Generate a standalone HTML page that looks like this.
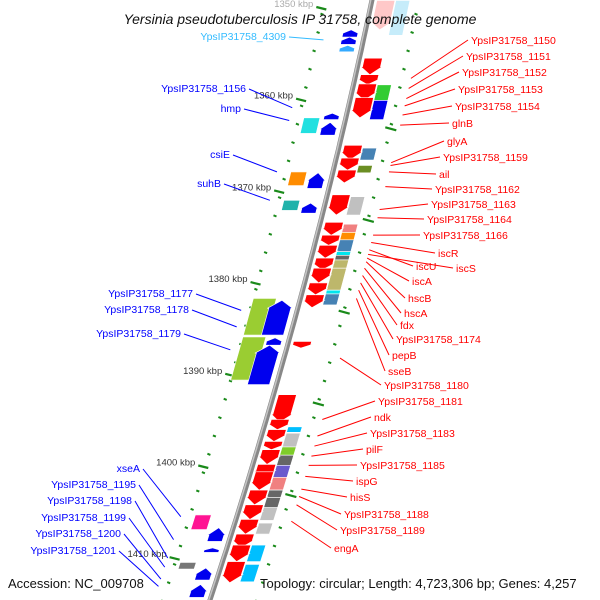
<!DOCTYPE html>
<html><head><meta charset="utf-8"><style>
html,body{margin:0;padding:0;background:#fff;}
svg{display:block;font-family:"Liberation Sans","DejaVu Sans",sans-serif;}
</style></head><body>
<svg id="map" width="600" height="600" viewBox="0 0 600 600" xmlns="http://www.w3.org/2000/svg">
<rect width="600" height="600" fill="#fff"/>
<g id="ticks"></g>
<g id="features"></g>
<g id="backbone"></g>
<g id="labels"></g>
<text x="300" y="24" text-anchor="middle" font-size="14" font-style="italic" fill="#111">Yersinia pseudotuberculosis IP 31758, complete genome</text>
<text x="8" y="588" font-size="13" fill="#111">Accession: NC_009708</text>
<text x="260" y="588" font-size="13" fill="#111">Topology: circular; Length: 4,723,306 bp; Genes: 4,257</text>
</svg>
<script>
// ---- data (kbp) ----
const fwdStart = [1349.5,1355.8,1357.6,1358.6,1360.1,1365.3,1366.7,1368.0,1370.7,1373.7,1375.1,1376.2,1377.6,1378.7,1380.3,1381.6,1386.7,1392.5,1395.2,1396.3,1397.6,1398.5,1400.1,1400.9,1402.9,1404.5,1406.1,1407.7,1408.9,1410.7];
const fwdEnd   = [1352.7,1357.6,1358.7,1360.4,1362.3,1366.9,1368.0,1369.4,1372.9,1375.1,1376.2,1377.6,1378.9,1380.3,1381.6,1383.0,1387.4,1395.5,1396.3,1397.6,1398.5,1400.1,1401.6,1402.9,1404.5,1406.1,1407.7,1409.2,1410.7,1413.0];
const fwdBoxStart = [1349.5,1358.7,1360.4,1365.6,1367.5,1370.9,1373.9,1374.8,1375.6,1376.9,1377.3,1377.8,1378.7,1381.1,1381.5,1396.0,1396.7,1398.2,1399.1,1400.2,1401.5,1402.9,1403.7,1404.8,1406.5,1408.9,1411.0];
const fwdBoxEnd   = [1353.3,1360.4,1362.5,1366.9,1368.3,1372.9,1374.8,1375.6,1376.9,1377.3,1377.8,1378.7,1381.1,1381.5,1382.7,1396.6,1398.2,1399.1,1400.2,1401.5,1402.9,1403.7,1404.8,1406.2,1407.7,1410.7,1412.9];
const fwdBoxColor = ["#c6ecfa","#33cc33","#0000ee","#4682b4","#6b8e23","#c0c0c0","#f08080","#ff8c00","#4682b4","#00e5ee","#666666","#bdb76b","#bdb76b","#00e5ee","#4682b4","#00bfff","#c0c0c0","#7fcc2a","#666666","#6a5acd","#f08080","#666666","#666666","#c0c0c0","#c0c0c0","#00bfff","#00bfff"];
const revStart = [1352.7,1353.5,1354.4,1361.8,1362.8,1368.3,1371.6,1382.2,1386.3,1387.1,1407.0,1409.2,1411.4,1413.2];
const revEnd   = [1353.5,1354.3,1355.1,1362.5,1364.2,1370.0,1372.7,1386.0,1387.1,1391.4,1408.5,1409.7,1412.7,1414.6];
const revColor = ["#0000ee","#0000ee","#33aaff","#0000ee","#0000ee","#0000ee","#0000ee","#0000ee","#0000ee","#0000ee","#0000ee","#0000ee","#0000ee","#0000ee"];
const revBoxStart = [1362.3,1368.2,1371.3,1382.0,1386.2,1405.6,1410.8];
const revBoxEnd   = [1364.0,1369.7,1372.4,1386.0,1390.9,1407.2,1411.5];
const revBoxColor = ["#22e0e0","#ff8c00","#20b2aa","#9acd32","#9acd32","#ff1493","#777777"];
const tickLabels = [1350,1360,1370,1380,1390,1400,1410];
const rightMajor = [1363.5,1373.5,1383.5,1393.5,1403.5];
const rightNames = ["YpsIP31758_1150","YpsIP31758_1151","YpsIP31758_1152","YpsIP31758_1153","YpsIP31758_1154","glnB","glyA","YpsIP31758_1159","ail","YpsIP31758_1162","YpsIP31758_1163","YpsIP31758_1164","YpsIP31758_1166","iscR","iscU","iscS","iscA","hscB","hscA","fdx","YpsIP31758_1174","pepB","sseB","YpsIP31758_1180","YpsIP31758_1181","ndk","YpsIP31758_1183","pilF","YpsIP31758_1185","ispG","hisS","YpsIP31758_1188","YpsIP31758_1189","engA"];
const rightLabelX = [471,466,462,458,455,452,447,443,439,435,431,427,423,438,416,456,412,408,404,400,396,392,388,384,378,374,370,366,360,356,350,344,340,334];
const rightLabelY = [44,60,76,93,110,127,145,161,178,193,208,223,239,257,270,272,285,302,317,329,343,359,375,389,405,421,437,453,469,485,501,518,534,552];
const rightTarget = [1358.0,1359.1,1360.2,1361.0,1362.0,1363.1,1367.2,1367.5,1368.2,1369.8,1372.3,1373.2,1375.1,1375.9,1376.7,1377.2,1377.6,1378.0,1378.7,1379.5,1380.3,1381.1,1382.0,1388.5,1395.2,1397.0,1398.1,1399.2,1400.2,1401.4,1402.8,1403.6,1404.5,1406.3];
const leftNames = ["YpsIP31758_4309","YpsIP31758_1156","hmp","csiE","suhB","YpsIP31758_1177","YpsIP31758_1178","YpsIP31758_1179","xseA","YpsIP31758_1195","YpsIP31758_1198","YpsIP31758_1199","YpsIP31758_1200","YpsIP31758_1201"];
const leftLabelX = [286,246,241,230,221,193,189,181,140,136,132,126,121,116];
const leftLabelY = [40,92,112,158,187,297,313,337,472,488,504,521,537,554];
const leftTarget = [1353.8,1361.2,1362.6,1368.2,1371.3,1383.3,1385.1,1387.6,1405.8,1408.3,1410.3,1411.3,1412.6,1413.4];

// ---- geometry ----
const NS='http://www.w3.org/2000/svg';
function ky(k){return 5+(k-1350)*9.17;}
function bx(y){return 372-0.21*y-0.0001*y*y;}
function pt(y,o){return (bx(y)+o).toFixed(1)+','+y.toFixed(1);}
function mk(tag,attrs,parent){const e=document.createElementNS(NS,tag);for(const a in attrs)e.setAttribute(a,attrs[a]);parent.appendChild(e);return e;}
function box(k1,k2,o1,o2){const y1=ky(k1),y2=ky(k2);return [pt(y1,o1),pt(y1,o2),pt(y2,o2),pt(y2,o1)].join(' ');}
function arrow(k1,k2,o1,o2,dir){const y1=ky(k1),y2=ky(k2);const L=y2-y1;const h=Math.min(8,L*0.55);const oc=(o1+o2)/2;
 if(dir>0){const yh=y2-h;return [pt(y1,o1),pt(y1,o2),pt(yh,o2),pt(yh,o2+1.5),pt(y2,oc),pt(yh,o1-1.5),pt(yh,o1)].join(' ');}
 const yh=y1+h;return [pt(y2,o1),pt(y2,o2),pt(yh,o2),pt(yh,o2+1.5),pt(y1,oc),pt(yh,o1-1.5),pt(yh,o1)].join(' ');}

const gT=document.getElementById('ticks'),gF=document.getElementById('features'),gB=document.getElementById('backbone'),gL=document.getElementById('labels');

// ticks (small dashes every 2 kbp)
for(let k=1349;k<=1415;k+=2){
 const y=ky(k);
 let d=mk('line',{x1:(bx(y)-48.5).toFixed(1),y1:(y-0.6).toFixed(1),x2:(bx(y)-45.5).toFixed(1),y2:(y+0.6).toFixed(1),stroke:'#1a8a1a','stroke-width':2},gT);
 
 
 d=mk('line',{x1:(bx(y)+45.5).toFixed(1),y1:(y-0.6).toFixed(1),x2:(bx(y)+48.5).toFixed(1),y2:(y+0.6).toFixed(1),stroke:'#1a8a1a','stroke-width':2},gT);
 
 
}
tickLabels.forEach(k=>{
 const y=ky(k)+3;
 const l=mk('line',{x1:bx(y)-54,y1:y-1,x2:bx(y)-44,y2:y+1.5,stroke:'#1a8a1a','stroke-width':2.2},gT);
 
 
 const t=mk('text',{x:bx(y)-57,y:y-1,'text-anchor':'end','font-size':9.5,fill:'#333'},gT);
 
 
 t.textContent=k+' kbp';
 if(k===1350)t.setAttribute('fill','#aaa');
});
rightMajor.forEach(k=>{
 const y=ky(k);
 const l=mk('line',{x1:bx(y)+42,y1:y-1.5,x2:bx(y)+53,y2:y+1.5,stroke:'#1a8a1a','stroke-width':2.2},gT);
 
 
});

// features
for(let i=0;i<fwdBoxStart.length;i++){
 const p=mk('polygon',{points:box(fwdBoxStart[i],fwdBoxEnd[i],24,38),fill:fwdBoxColor[i],stroke:'#fff','stroke-width':0.6},gF);
 
 
}
for(let i=0;i<fwdStart.length;i++){
 const p=mk('polygon',{points:arrow(fwdStart[i],fwdEnd[i],5,23,1),fill:i===0?'#ffc8c8':'#ff0000',stroke:'#fff','stroke-width':0.6},gF);
 
 
}
for(let i=0;i<revBoxStart.length;i++){
 const w=(revBoxEnd[i]-revBoxStart[i])>3?[-47,-24]:[-42,-26];
 const p=mk('polygon',{points:box(revBoxStart[i],revBoxEnd[i],w[0],w[1]),fill:revBoxColor[i],stroke:'#fff','stroke-width':0.6},gF);
 
 
}
for(let i=0;i<revStart.length;i++){
 const big=(revEnd[i]-revStart[i])>3;
 const p=mk('polygon',{points:arrow(revStart[i],revEnd[i],big?-29:-22,-7,-1),fill:revColor[i],stroke:'#fff','stroke-width':0.6},gF);
 
 
}

// backbone
let pts=[];for(let y=-10;y<=610;y+=10)pts.push((bx(y)).toFixed(1)+','+y);
let b=mk('polyline',{points:pts.join(' '),fill:'none',stroke:'#888','stroke-width':5},gB);


pts=[];for(let y=-10;y<=610;y+=10)pts.push((bx(y)-1.2).toFixed(1)+','+y);
b=mk('polyline',{points:pts.join(' '),fill:'none',stroke:'#c4c4c4','stroke-width':1.5},gB);



// labels
for(let i=0;i<rightNames.length;i++){
 const ty=ky(rightTarget[i]);
 const l=mk('line',{x1:rightLabelX[i]-3,y1:rightLabelY[i]-4,x2:bx(ty)+56,y2:ty,stroke:'#ff0000','stroke-width':1},gL);
 
 
 const t=mk('text',{x:rightLabelX[i],y:rightLabelY[i],'font-size':10.5,fill:'#ff0000'},gL);
 
 
 t.textContent=rightNames[i];
}
for(let i=0;i<leftNames.length;i++){
 const ty=ky(leftTarget[i]);
 const col=i===0?'#33bbff':'#0000ff';
 const l=mk('line',{x1:leftLabelX[i]+3,y1:leftLabelY[i]-3,x2:bx(ty)-(i===0?40:56),y2:ty,stroke:col,'stroke-width':1},gL);
 
 
 const t=mk('text',{x:leftLabelX[i],y:leftLabelY[i],'text-anchor':'end','font-size':10.5,fill:col},gL);
 
 
 t.textContent=leftNames[i];
}
</script>
</body></html>
